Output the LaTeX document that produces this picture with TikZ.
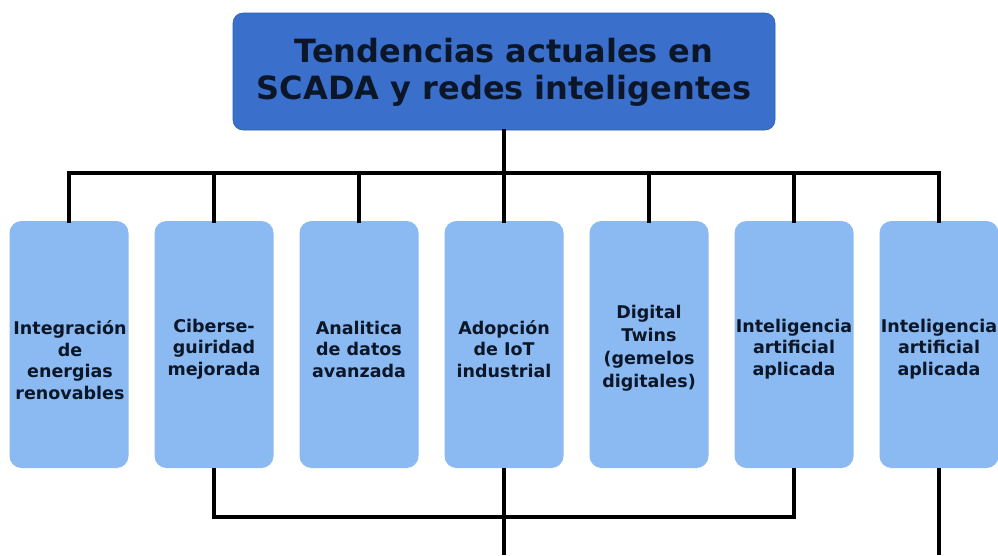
\documentclass[tikz,border=0pt]{standalone}
\usepackage{fontspec}
\setmainfont{DejaVu Sans}
\definecolor{topblue}{HTML}{3A6FCC}
\definecolor{itemblue}{HTML}{8ABAF1}
\definecolor{navy}{HTML}{0B1628}
\begin{document}
\begin{tikzpicture}[x=1pt,y=-1pt,
  topbox/.style={fill=topblue, draw=topblue!85!black, line width=0.6pt, rounded corners=10pt, minimum width=542pt, minimum height=117pt, inner sep=0pt},
  itembox/.style={fill=itemblue, rounded corners=12pt, minimum width=119pt, minimum height=247pt, inner sep=0pt},
  titletext/.style={align=center, text=navy, font=\bfseries\fontsize{32}{37}\selectfont},
  lbl/.style={align=center, text=navy, inner sep=0pt, font=\bfseries\fontsize{17.5}{21.5}\selectfont},
  conn/.style={line width=3.6pt, draw=black, line cap=rect}]
\useasboundingbox (0,0) rectangle (998,555);
\fill[white] (0,0) rectangle (998,555);

% top box
\node[topbox] (t) at (504,71.5) {};
\node[titletext] (tt) at (504,72) {Tendencias actuales en\\SCADA y redes inteligentes};

% item boxes
\node[itembox] (b1) at (69,344.5) {};
\node[itembox] (b2) at (214,344.5) {};
\node[itembox] (b3) at (359,344.5) {};
\node[itembox] (b4) at (504,344.5) {};
\node[itembox] (b5) at (649,344.5) {};
\node[itembox] (b6) at (794,344.5) {};
\node[itembox] (b7) at (939,344.5) {};

\node[lbl] (l1) at (70,360) {Integración\\de\\energias\\renovables};
\node[lbl] (l2) at (214,349) {Ciberse-\\guiridad\\mejorada};
\node[lbl] (l3) at (359,349) {Analitica\\de datos\\avanzada};
\node[lbl] (l4) at (504,349) {Adopción\\de IoT\\industrial};
\node[lbl, font=\bfseries\fontsize{17.5}{23}\selectfont] (l5) at (649,348) {Digital\\Twins\\(gemelos\\digitales)};
\node[lbl] (l6) at (794,349) {Inteligencia\\artificial\\aplicada};
\node[lbl] (l7) at (939,349) {Inteligencia\\artificial\\aplicada};

% connectors
\coordinate (bus) at (0,173);
\coordinate (low) at (0,517);
\coordinate (e4) at (504,555);
\coordinate (e7) at (939,555);

\draw[conn] (t.south) -- (t.south |- bus);
\draw[conn] (b1.north |- bus) -- (b7.north |- bus);
\foreach \i in {1,...,7}{
  \draw[conn] (b\i.north) -- (b\i.north |- bus);
}
\draw[conn, line cap=butt] (b2.south) -- (b2.south |- low) -- (b6.south |- low) -- (b6.south);
\draw[conn, line cap=butt] (b4.south) -- (e4);
\draw[conn, line cap=butt] (b7.south) -- (e7);
\end{tikzpicture}
\end{document}
